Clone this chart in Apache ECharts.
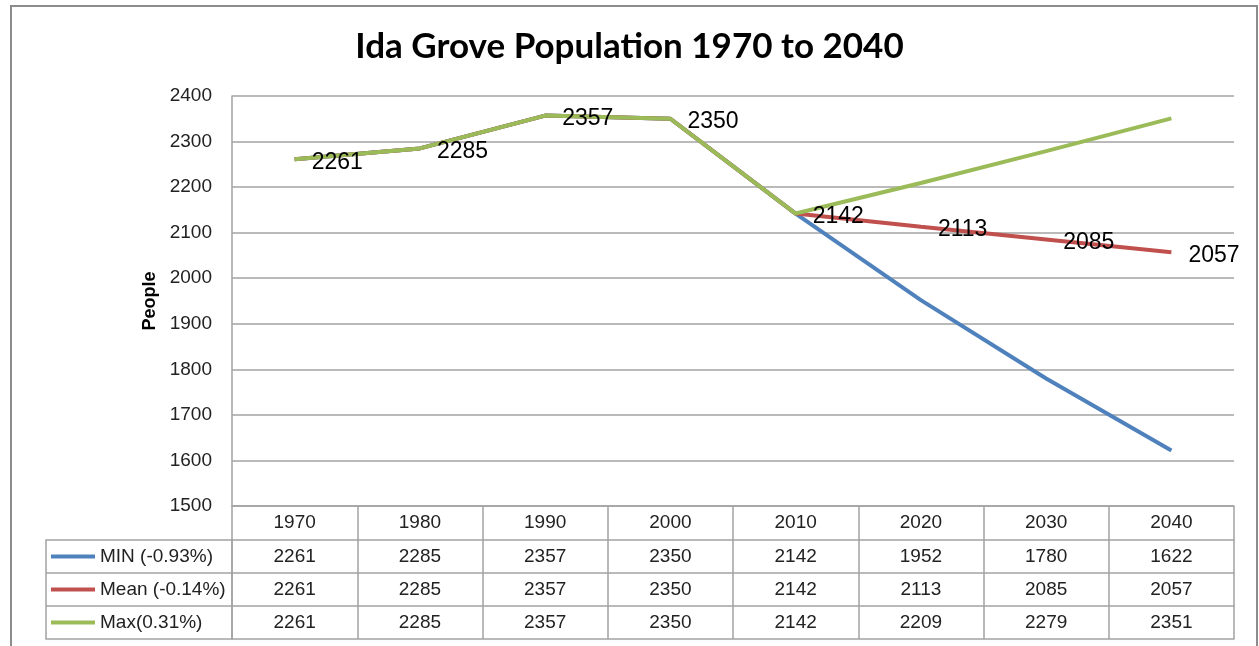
<!DOCTYPE html>
<html>
<head>
<meta charset="utf-8">
<script src="https://cdn.jsdelivr.net/npm/echarts@6/dist/echarts.min.js"></script>
<style>
  html, body { margin: 0; padding: 0; background: #fff; }
  #main { width: 1259px; height: 646px; }
</style>
</head>
<body>
<div id="main"></div>
<script>
// data
const years = ['1970', '1980', '1990', '2000', '2010', '2020', '2030', '2040'];
const minVals = [2261, 2285, 2357, 2350, 2142, 1952, 1780, 1622];
const meanVals = [2261, 2285, 2357, 2350, 2142, 2113, 2085, 2057];
const maxVals = [2261, 2285, 2357, 2350, 2142, 2209, 2279, 2351];
const seriesNames = ['MIN (-0.93%)', 'Mean (-0.14%)', 'Max(0.31%)'];
const colors = ['#4F81BD', '#C0504D', '#9BBB59'];
const yMin = 1500, yMax = 2400, yStep = 100;

window.onload = function () {
    let myChart = echarts.init(document.getElementById('main'));
    const grey = '#a3a3a3';
    const font = 'Liberation Sans';
    const rowH = 33;
    const tableRows = [minVals, meanVals, maxVals];

    // extra x axes = table rows (their axis lines are the horizontal rules)
    let tableAxes = tableRows.map((vals, r) => ({
        type: 'category',
        data: years,
        position: 'bottom',
        offset: 34 + r * rowH,
        axisLine: { show: true, lineStyle: { color: grey, width: 1.5 } },
        axisTick: { show: false },
        splitLine: { show: false },
        axisLabel: {
            interval: 0,
            margin: rowH / 2,
            verticalAlign: 'middle',
            color: '#222',
            fontFamily: font,
            fontSize: 19,
            formatter: (v, i) => String(vals[i])
        }
    }));
    // bottom rule of the table
    tableAxes.push({
        type: 'category',
        data: years,
        position: 'bottom',
        offset: 34 + 3 * rowH,
        axisLine: { show: true, lineStyle: { color: grey, width: 1.5 } },
        axisTick: { show: false },
        axisLabel: { show: false }
    });

    let option = {
        backgroundColor: '#fff',
        animation: false,
        title: {
            text: 'Ida Grove Population 1970 to 2040',
            left: 'center',
            top: 24,
            textStyle: { fontFamily: 'Lato', fontWeight: 'bold', fontSize: 35, color: '#000' }
        },
        legend: {
            orient: 'vertical',
            left: 51,
            top: 540,
            padding: 0,
            itemGap: 0,
            icon: 'rect',
            itemWidth: 44,
            itemHeight: 4,
            data: seriesNames,
            textStyle: { fontFamily: font, fontSize: 19, color: '#222', lineHeight: rowH }
        },
        grid: { left: 232, right: 25, top: 96, bottom: 140 },
        xAxis: [{
            type: 'category',
            data: years,
            boundaryGap: true,
            axisLine: { show: true, lineStyle: { color: grey, width: 1.5 } },
            axisTick: { show: true, length: 34 + 3 * rowH, interval: 0, lineStyle: { color: grey, width: 1.5 } },
            axisLabel: {
                interval: 0, margin: 17, verticalAlign: 'middle',
                color: '#222', fontFamily: font, fontSize: 19
            }
        }].concat(tableAxes),
        yAxis: {
            type: 'value',
            min: yMin,
            max: yMax,
            interval: yStep,
            name: 'People',
            nameLocation: 'middle',
            nameGap: 63,
            nameTextStyle: { fontFamily: font, fontWeight: 'bold', fontSize: 18, color: '#000' },
            axisLine: { show: true, lineStyle: { color: grey, width: 1.5 } },
            axisTick: { show: false },
            axisLabel: { margin: 20, color: '#222', fontFamily: font, fontSize: 19, formatter: v => String(v) },
            splitLine: { lineStyle: { color: grey, width: 1.5 } }
        },
        series: [minVals, meanVals, maxVals].map((vals, i) => ({
            name: seriesNames[i],
            type: 'line',
            data: vals,
            symbol: 'circle',
            symbolSize: 0,
            showSymbol: true,
            color: colors[i],
            lineStyle: { width: 4, color: colors[i] },
            label: i === 1 ? {
                show: true,
                position: 'right',
                distance: 17,
                offset: [0, 3],
                color: '#000',
                fontFamily: font,
                fontSize: 23
            } : { show: false }
        })),
        graphic: [
            // outer chart border
            { type: 'rect', shape: { x: 11, y: 6, width: 1246, height: 660 },
              style: { fill: 'none', stroke: '#8c8c8c', lineWidth: 2 }, z: 0 },
            // legend column of the data table
            { type: 'rect', shape: { x: 46, y: 540, width: 186, height: 3 * rowH },
              style: { fill: 'none', stroke: grey, lineWidth: 1.5 } },
            { type: 'line', shape: { x1: 46, y1: 540 + rowH, x2: 232, y2: 540 + rowH },
              style: { stroke: grey, lineWidth: 1.5 } },
            { type: 'line', shape: { x1: 46, y1: 540 + 2 * rowH, x2: 232, y2: 540 + 2 * rowH },
              style: { stroke: grey, lineWidth: 1.5 } }
        ]
    };
    myChart.setOption(option);
}
</script>
</body>
</html>
